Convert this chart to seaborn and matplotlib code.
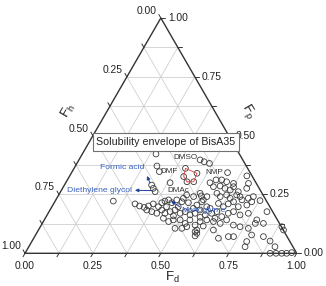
import numpy as np
import pandas as pd
import matplotlib
matplotlib.use("Agg")
import matplotlib.pyplot as plt
import seaborn as sns

# Teas graph of solvents (fractional parameters fd, fp; fh = 1 - fd - fp)
fd = [0.271, 0.446, 0.465, 0.488, 0.300, 0.321, 0.574, 0.652, 0.384, 0.531,
      0.547, 0.568, 0.590, 0.619, 0.674, 0.321, 0.334, 0.348, 0.517, 0.552,
      0.575, 0.598, 0.621, 0.626, 0.654, 0.671, 0.678, 0.471, 0.500, 0.527,
      0.543, 0.549, 0.579, 0.598, 0.618, 0.638, 0.655, 0.685, 0.705, 0.720,
      0.753, 0.300, 0.321, 0.341, 0.354, 0.367, 0.392, 0.396, 0.404, 0.415,
      0.433, 0.445, 0.468, 0.466, 0.494, 0.530, 0.541, 0.570, 0.606, 0.631,
      0.643, 0.658, 0.686, 0.714, 0.725, 0.356, 0.378, 0.400, 0.411, 0.430,
      0.446, 0.460, 0.467, 0.486, 0.501, 0.526, 0.541, 0.552, 0.582, 0.602,
      0.618, 0.646, 0.663, 0.679, 0.710, 0.737, 0.782, 0.802, 0.435, 0.461,
      0.475, 0.500, 0.526, 0.536, 0.566, 0.577, 0.598, 0.626, 0.655, 0.671,
      0.707, 0.735, 0.769, 0.784, 0.814, 0.889, 0.902, 0.644, 0.583, 0.499,
      0.524, 0.590, 0.680, 0.713, 0.732, 0.791, 0.842, 0.876, 0.796, 0.906,
      0.902, 0.924, 0.945, 0.963, 0.980, 0.214, 0.795, 0.465, 0.524, 0.586,
      0.625, 0.568, 0.539, 0.598, 0.580, 0.589, 0.422,
      0.410, 0.463, 0.469, 0.444, 0.421]
fp = [0.422, 0.397, 0.389, 0.382, 0.371, 0.347, 0.343, 0.329, 0.300, 0.300,
      0.312, 0.312, 0.304, 0.297, 0.297, 0.290, 0.276, 0.262, 0.255, 0.283,
      0.286, 0.276, 0.269, 0.283, 0.262, 0.241, 0.276, 0.248, 0.241, 0.244,
      0.227, 0.241, 0.255, 0.241, 0.248, 0.234, 0.248, 0.227, 0.234, 0.241,
      0.224, 0.210, 0.201, 0.195, 0.201, 0.210, 0.198, 0.215, 0.222, 0.227,
      0.215, 0.227, 0.219, 0.234, 0.215, 0.205, 0.219, 0.198, 0.212, 0.198,
      0.210, 0.219, 0.198, 0.205, 0.219, 0.184, 0.177, 0.170, 0.184, 0.170,
      0.177, 0.184, 0.159, 0.170, 0.177, 0.163, 0.170, 0.184, 0.163, 0.170,
      0.177, 0.156, 0.170, 0.177, 0.163, 0.170, 0.142, 0.177, 0.149, 0.135,
      0.142, 0.142, 0.127, 0.142, 0.120, 0.135, 0.142, 0.135, 0.127, 0.142,
      0.120, 0.113, 0.106, 0.127, 0.127, 0.113, 0.099, 0.099, 0.099, 0.106,
      0.106, 0.085, 0.064, 0.071, 0.071, 0.050, 0.071, 0.052, 0.028, 0.028,
      0.000, 0.000, 0.000, 0.000, 0.003, 0.222, 0.078, 0.198, 0.191, 0.191,
      0.149, 0.153, 0.113, 0.116, 0.092, 0.074, 0.198,
      0.361, 0.340, 0.304, 0.304, 0.326]

# solubility envelope (good solvents)
env_fd = [0.410, 0.463, 0.469, 0.444, 0.421]
env_fp = [0.361, 0.340, 0.304, 0.304, 0.326]

tick_vals = [0.00, 0.25, 0.50, 0.75, 1.00]
grid_vals = [0.125, 0.25, 0.375, 0.5, 0.625, 0.75, 0.875]

H = np.sqrt(3) / 2
PX = 1 / 271.7  # data units per pixel


def tern(d, p):
    d = np.asarray(d, float)
    p = np.asarray(p, float)
    return d + p / 2, p * H


def pix(ox, oy):
    # position from picture pixels (for labels/annotations only)
    return (ox - 25) * PX, (253.3 - oy) * PX


sns.set_style("white")
plt.rcParams['font.family'] = ['Liberation Sans', 'DejaVu Sans']

fig = plt.figure(figsize=(3.26, 2.86), dpi=100)
ax = fig.add_axes([0, 0, 1, 1])
ax.set_xlim(-25 * PX, 301 * PX)
ax.set_ylim((253.3 - 286) * PX, 253.3 * PX)
ax.axis('off')

gc = '#cccccc'
for t in grid_vals:
    x, y = tern([t, t], [0, 1 - t])
    ax.plot(x, y, color=gc, lw=0.55, zorder=1)
    x, y = tern([0, 1 - t], [t, t])
    ax.plot(x, y, color=gc, lw=0.55, zorder=1)
    x, y = tern([1 - t, 0], [0, 1 - t])
    ax.plot(x, y, color=gc, lw=0.55, zorder=1)

# triangle frame
x, y = tern([0, 1, 0, 0], [0, 0, 1, 0])
ax.plot(x, y, color='#333333', lw=1.0, zorder=2)

# ticks
tl = 4 * PX
for t in np.arange(0, 1.0001, 0.125):
    bx, by = tern(t, 0)
    ax.plot([bx, bx - 0.5 * tl], [by, by - H * tl], color='#333333', lw=0.7)
    lx, ly = tern(0, 1 - t)
    ax.plot([lx, lx - 0.5 * tl], [ly, ly + H * tl], color='#333333', lw=0.7)
    rx, ry = tern(1 - t, t)
    ax.plot([rx, rx + tl], [ry, ry], color='#333333', lw=0.7)

fs_tick = 7.4
for t in tick_vals:
    bx, by = tern(t, 0)
    ax.text(bx, by - 13 * PX, f"{t:.2f}", ha='center', va='center', fontsize=fs_tick, color='#222222')
    lx, ly = tern(0, 1 - t)
    ax.text(lx - 14 * PX, ly + 7 * PX, f"{t:.2f}", ha='center', va='center', fontsize=fs_tick, color='#222222')
    rx, ry = tern(1 - t, t)
    ax.text(rx + 17 * PX, ry, f"{t:.2f}", ha='center', va='center', fontsize=fs_tick, color='#222222')

# axis titles
ax.text(*pix(172, 277), r"F$_\mathregular{d}$", ha='center', va='center', fontsize=9.5, color='#222222')
ax.text(*pix(68, 111), r"F$_\mathregular{h}$", ha='center', va='center', fontsize=9.5, rotation=60, color='#222222')
ax.text(*pix(248, 111), r"F$_\mathregular{p}$", ha='center', va='center', fontsize=9.5, rotation=-60, color='#222222')

# solvent points
px_, py_ = tern(fd, fp)
df = pd.DataFrame({'x': px_, 'y': py_})
sns.scatterplot(data=df, x='x', y='y', ax=ax, marker='o', s=17,
                facecolor='none', edgecolor='#3a3a3a', linewidth=0.6, zorder=3)
ax.set_xlabel('')
ax.set_ylabel('')

# envelope polygon
ex, ey = tern(env_fd + env_fd[:1], env_fp + env_fp[:1])
ax.plot(ex, ey, color='#e04040', lw=0.6, zorder=4)

# solvent labels
for name, ox, oy in [('DMSO', 185, 157), ('DMF', 169, 171.7), ('NMP', 214, 172.7), ('DMAc', 178, 190.7)]:
    ax.text(*pix(ox, oy), name, ha='center', va='center', fontsize=5.9, color='#333333', zorder=5)

blue = '#3a62c0'
for name, ox, oy in [('Formic acid', 122, 167.3), ('Diethylene glycol', 100, 190.7), ('Monoglyme', 203, 210)]:
    ax.text(*pix(ox, oy), name, ha='center', va='center', fontsize=6.1, color=blue, zorder=5)

arrow_kw = dict(arrowstyle='-|>', color='#1f3f9a', lw=0.7, mutation_scale=5, shrinkA=0, shrinkB=0)
ax.annotate('', xy=pix(147, 176), xytext=pix(150, 183), arrowprops=arrow_kw, zorder=5)
ax.annotate('', xy=pix(135, 190.3), xytext=pix(152, 190.6), arrowprops=arrow_kw, zorder=5)
ax.annotate('', xy=pix(171, 201), xytext=pix(180, 207), arrowprops=arrow_kw, zorder=5)

ax.text(*pix(166, 142), "Solubility envelope of BisA35", ha='center', va='center',
        fontsize=7.7, color='#222222', zorder=6,
        bbox=dict(boxstyle='square,pad=0.35', fc='white', ec='#707070', lw=0.8))

fig.savefig('out.png', dpi=100, facecolor='white')
